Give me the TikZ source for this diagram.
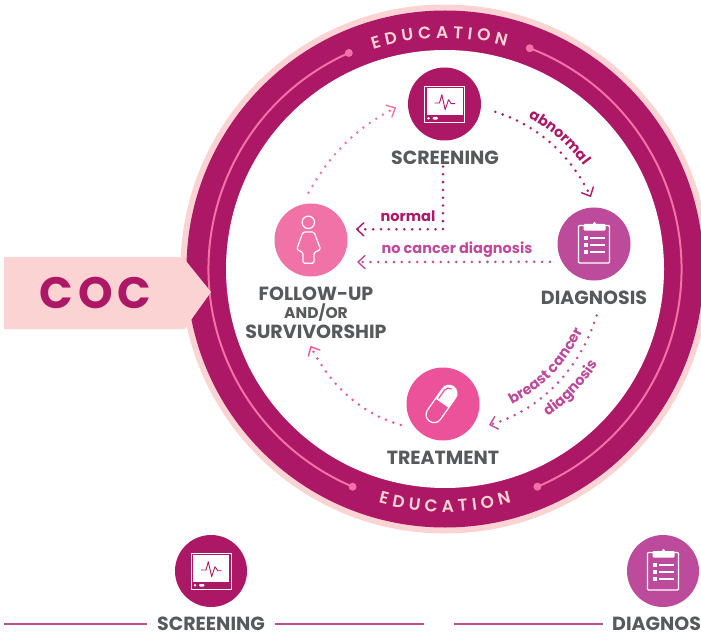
\documentclass[tikz,border=0pt]{standalone}
\usepackage{fontspec}
\setmainfont{Poppins}
\newfontfamily\semib{Poppins SemiBold}
\usetikzlibrary{arrows.meta,decorations.text}
\definecolor{mag}{HTML}{AC1766}
\definecolor{blush}{HTML}{FBD3D3}
\definecolor{rose}{HTML}{F172A6}
\definecolor{orchid}{HTML}{BD4B9B}
\definecolor{hotp}{HTML}{EC5299}
\definecolor{slate}{HTML}{58595B}
\tikzset{
  x=1pt,y=1pt,
  icircle/.style={circle,minimum size=73pt,inner sep=0pt,fill=#1},
  lab/.style={font=\bfseries\fontsize{19}{19}\selectfont,text=slate,inner sep=0pt,align=center},
  flow/.style={line width=2.8pt,line cap=round,dash pattern=on 0pt off 7.8pt,color=#1,
    -{Straight Barb[length=7pt,width=13pt,line width=1.4pt,round]}},
  iconline/.style={draw=white,line width=1.2pt,line join=round},
  curved/.style={decorate,decoration={text along path,text align=center,text color=#1,raise=0pt}},
  rule/.style={orchid,line width=2.3pt},
  monitor/.pic={
    \draw[white,line width=.9pt] (-20,-18.7) rectangle (20,18);
    \fill[white] (-18,-11) rectangle (18,16);
    \fill[white] (-16,-14.3) circle (1.4);
    \fill[white,rounded corners=1.2pt] (-12,-15.6) rectangle (-6.5,-13);
    \draw[mag,line width=.9pt,line join=round] (-10,1) -- (-5,1) -- (-2.7,9.3) -- (0.7,-5.7) -- (4,4.3) -- (6.7,.3) -- (10.7,.3);
  },
  clipboard/.pic={
    \draw[white,line width=1.2pt,rounded corners=1pt] (-15.5,18.5) rectangle (15.5,-19);
    \fill[white,rounded corners=1pt] (-10.5,20) rectangle (11.5,13.5);
    \fill[white] (.5,20.6) circle (1.5);
    \foreach \yy in {6.3,-.7,-7.7}{
      \fill[white] (-10,\yy-1.8) rectangle (-6.4,\yy+1.8);
      \fill[white] (-4,\yy-1.1) rectangle (11,\yy+1.1);
    }
  },
  person/.pic={
    \draw[iconline] (-2.7,17.7) circle (6.2);
    \draw[iconline,rounded corners=1.6pt] (-8,8) -- (3,8) -- (9.7,-9.5) -- (3,-12.5) -- (3,-23.3) -- (-8,-23.3) -- (-8,-12.5) -- (-14.3,-9.5) -- cycle;
  },
}
\begin{document}
\begin{tikzpicture}
\useasboundingbox (0,0) rectangle (701,633);
\clip (0,0) rectangle (701,633);
% rings
\coordinate (hub) at (445,364);
\fill[blush] (hub) circle (264.5);
\fill[mag] (hub) circle (258.5);
\fill[white] (hub) circle (219);
\draw[rose,line width=2pt] (hub) ++(69:236.5) arc (69:-67:236.5);
\draw[rose,line width=2pt] (hub) ++(114:236.5) arc (114:247:236.5);
\fill[rose] (hub) ++(69:236.5) circle (4);
\fill[rose] (hub) ++(-67:236.5) circle (4);
\fill[rose] (hub) ++(114:236.5) circle (4);
\fill[rose] (hub) ++(247:236.5) circle (4);
% education
\path[curved=blush] (hub) ++(121.4:231) arc (121.4:61.4:231)
  [decoration={text={|\semib\fontsize{17}{17}\selectfont|{E\kern4.5pt}{D\kern4.5pt}{U\kern4.5pt}{C\kern4.5pt}{A\kern4.5pt}{T\kern4.5pt}{I\kern4.5pt}{O\kern4.5pt}{N}}}];
\path[curved=blush] (hub) ++(240:243) arc (240:300:243)
  [decoration={text={|\semib\fontsize{17}{17}\selectfont|{E\kern4.5pt}{D\kern4.5pt}{U\kern4.5pt}{C\kern4.5pt}{A\kern4.5pt}{T\kern4.5pt}{I\kern4.5pt}{O\kern4.5pt}{N}}}];
% COC arrow
\fill[blush] (4,376) -- (183,376) -- (186,372) -- (211,341) -- (191,313) -- (185,304) -- (4,304) -- cycle;
\node[inner sep=0pt,text=mag,font=\bfseries\fontsize{44}{44}\selectfont] (coc) at (95.5,340.5) {C\kern5pt O\kern5pt C};
% nodes
\node[icircle=mag] (scr) at (444.5,529) {};
\node[icircle=orchid] (dia) at (594,389) {};
\node[icircle=rose] (fol) at (311,393) {};
\node[icircle=hotp] (trt) at (443,229) {};
\node[lab] (scrl) at (445,475.5) {SCREENING};
\node[lab] (dial) at (594,335) {DIAGNOSIS};
\node[lab] (trtl) at (443,175.5) {TREATMENT};
\node[lab] (foll) at (316,320) {FOLLOW-UP\\[-1pt]{\fontsize{15.5}{15.5}\selectfont AND/OR}\\[1pt]SURVIVORSHIP};
\pic at (scr) {monitor};
\pic at (dia) {clipboard};
\pic at (fol) {person};
% pill
\begin{scope}[shift={(trt)},xshift=-1.5pt,rotate=-35]
  \fill[white,rounded corners=7.9pt] (-8,21) -- (8,21) -- (8,10) [sharp corners] -- (8,1) -- (-8,1) -- (-8,10) [rounded corners=7.9pt] -- cycle;
  \draw[iconline,rounded corners=7.9pt] (-8,-21) rectangle (8,21);
  \draw[hotp,line width=1.2pt,line cap=round] (-5.5,3) -- (-5.5,13) arc (180:90:5);
\end{scope}
% connectors
\draw[flow=mag,shorten <=15pt,shorten >=11.7pt] (scr.-5.3) to[out=-18,in=116] (dia.87);
\draw[flow=mag,shorten <=2pt,shorten >=10pt] ([xshift=-2pt]scrl.south) |- (fol.17);
\draw[flow=orchid,shorten <=12pt,shorten >=17pt] (dia.209.5) -- (fol.-37);
\draw[flow=rose,shorten <=13.3pt,shorten >=13.5pt] (fol.104.6) to[out=61,in=207] (scr.176.7);
\draw[flow=hotp,shorten <=16.5pt,shorten >=8pt] (trt.224.4) to[out=164,in=297] ([xshift=-9pt]foll.south);
\draw[flow=orchid,shorten <=11pt,shorten >=22pt] ([xshift=6pt]dial.south) to[out=252.5,in=15.7] (trt.-47.4);
% connector labels
\node[inner sep=0pt,text=mag,font=\bfseries\fontsize{14.5}{14.5}\selectfont] (lnorm) at (408,416.5) {normal};
\node[inner sep=0pt,text=orchid,font=\bfseries\fontsize{14.5}{14.5}\selectfont] (lnoc) at (457,383) {no cancer diagnosis};
\path[curved=mag] (hub) ++(62:173) arc (62:36:173)
  [decoration={text={|\bfseries\fontsize{14.5}{14.5}\selectfont|abnormal}}];
\path[curved=orchid] (hub) ++(-68:151) arc (-68:-20:151)
  [decoration={text={|\bfseries\fontsize{14.5}{14.5}\selectfont|breast cancer}}];
\path[curved=orchid] (hub) ++(-58:180) arc (-58:-29:180)
  [decoration={text={|\bfseries\fontsize{14.5}{14.5}\selectfont|diagnosis}}];
% lower row
\node[icircle=mag,minimum size=72pt] (scrb) at (211,62) {};
\node[icircle=orchid,minimum size=72pt] (diab) at (663,62) {};
\pic at (scrb) {monitor};
\pic at (diab) {clipboard};
\node[lab] (scrbl) at (211,9.5) {SCREENING};
\node[lab,anchor=west] (diabl) at (612,9.5) {DIAGNOSIS};
\draw[rule] (4,9) -- (147,9);
\draw[rule] (275,9) -- (424,9);
\draw[rule] (454,9) -- (603,9);
\end{tikzpicture}
\end{document}
